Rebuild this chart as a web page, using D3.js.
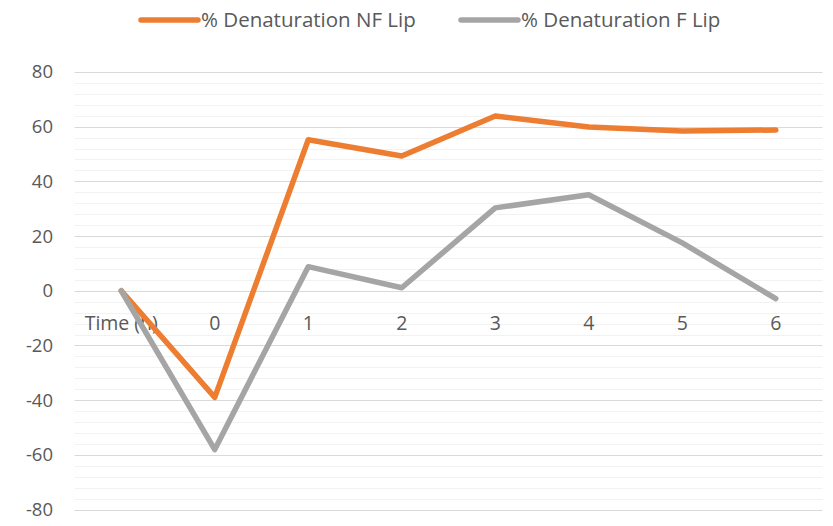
<!DOCTYPE html>
<html>
<head>
<meta charset="utf-8">
<script src="https://cdn.jsdelivr.net/npm/d3@7"></script>
<style>
  body { margin: 0; background: #fff; }
  text { font-family: "Open Sans", Lato, sans-serif; fill: #595959; }
</style>
</head>
<body>
<div id="chart"></div>
<script>
var categories = ['Time (h)', '0', '1', '2', '3', '4', '5', '6'];
var nfLip = [0, -39, 55.2, 49.3, 63.9, 59.9, 58.4, 58.8];
var fLip = [0, -58.1, 8.8, 1.1, 30.3, 35.1, 17.5, -2.9];
var seriesNames = ['% Denaturation NF Lip', '% Denaturation F Lip'];
var yTicks = [-80, -60, -40, -20, 0, 20, 40, 60, 80];

var width = 833,
	height = 526;

var svg = d3.select('#chart').append('svg')
	.attr('width', width)
	.attr('height', height);

var x = d3.scaleBand()
	.domain(categories)
	.range([74.5, 822.5])
	.padding(0);

var y = d3.scaleLinear()
	.domain([-80, 80])
	.range([509.5, 72]);

var cx = function(c) { return x(c) + x.bandwidth() / 2; };

// minor gridlines
svg.append('g')
	.selectAll('line')
	.data(d3.range(-80, 81, 4).filter(v => v % 20 !== 0))
	.enter()
	.append('line')
	.attr('x1', 74.5).attr('x2', 822.5)
	.attr('y1', d => Math.round(y(d)) + 0.5)
	.attr('y2', d => Math.round(y(d)) + 0.5)
	.style('stroke', '#f2f2f2')
	.style('stroke-width', 1);

// major gridlines
svg.append('g')
	.selectAll('line')
	.data(yTicks)
	.enter()
	.append('line')
	.attr('x1', 74.5).attr('x2', 822.5)
	.attr('y1', d => Math.round(y(d)) + 0.5)
	.attr('y2', d => Math.round(y(d)) + 0.5)
	.style('stroke', '#d9d9d9')
	.style('stroke-width', 1);

// y labels
svg.append('g')
	.selectAll('text')
	.data(yTicks)
	.enter()
	.append('text')
	.attr('x', 53)
	.attr('y', d => y(d))
	.attr('dy', '0.35em')
	.attr('text-anchor', 'end')
	.style('font-size', '18.5px')
	.text(d => d);

// x labels, sitting on the zero line
svg.append('g')
	.selectAll('text')
	.data(categories)
	.enter()
	.append('text')
	.attr('x', d => cx(d))
	.attr('y', y(0) + 32)
	.attr('dy', '0.35em')
	.attr('text-anchor', 'middle')
	.style('font-size', '19.5px')
	.text(d => d);

var line = d3.line()
	.x((d, i) => cx(categories[i]))
	.y(d => y(d));

var colors = ['#ed7d31', '#a5a5a5'];

svg.append('g')
	.selectAll('path')
	.data([nfLip, fLip])
	.enter()
	.append('path')
	.attr('d', line)
	.style('fill', 'none')
	.style('stroke', (d, i) => colors[i])
	.style('stroke-width', 5.5)
	.style('stroke-linecap', 'round')
	.style('stroke-linejoin', 'round');

// legend
var legendX = [141, 461];
var legend = svg.append('g')
	.selectAll('g')
	.data(seriesNames)
	.enter()
	.append('g')
	.attr('transform', (d, i) => 'translate(' + legendX[i] + ',20)');

legend.append('line')
	.attr('x1', 0).attr('x2', 57)
	.style('stroke', (d, i) => colors[i])
	.style('stroke-width', 5.5)
	.style('stroke-linecap', 'round');

legend.append('text')
	.attr('x', 60)
	.attr('dy', '0.35em')
	.style('font-size', '20.5px')
	.text(d => d);
</script>
</body>
</html>
